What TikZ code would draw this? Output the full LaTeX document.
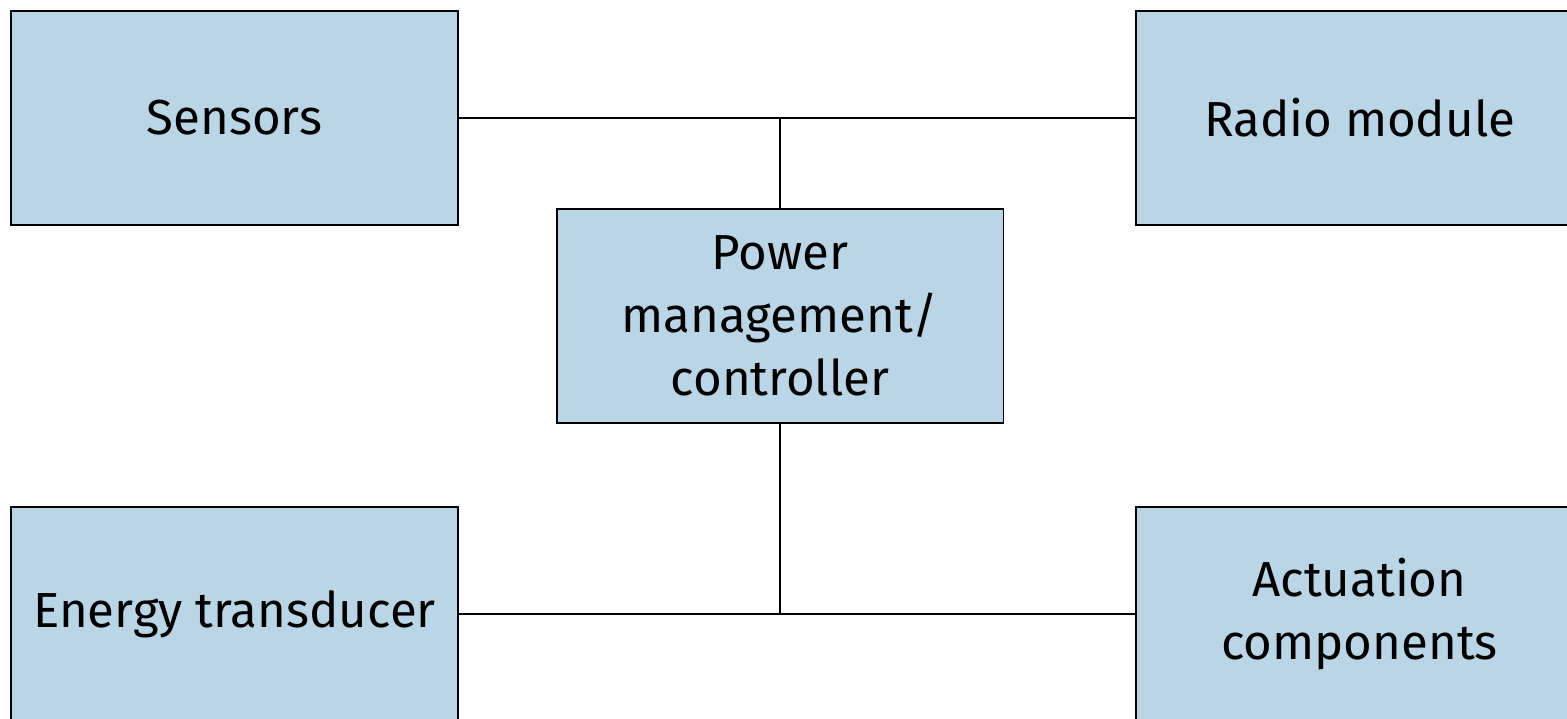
\documentclass[tikz,border=0pt]{standalone}
\usepackage{fontspec}
\setmainfont{Fira Sans}
\definecolor{boxblue}{RGB}{186,213,230}
\tikzset{
  block/.style={draw=black, fill=boxblue, line width=1.1pt, minimum width=8.94cm,
    minimum height=4.28cm, inner sep=0pt, align=center, font=\fontsize{28}{36}\selectfont},
  wire/.style={line width=1.1pt}
}
\begin{document}
\begin{tikzpicture}[x=0.02cm,y=0.02cm]
\useasboundingbox (0,0) rectangle (1567,719);

\node[block] (sensors) at (234.5,601) {Sensors};
\node[block] (radio) at (1359.5,601) {Radio module};
\node[block] (power) at (780,403) {Power\\management/\\controller};
\node[block] (energy) at (234.5,105) {Energy transducer};
\node[block] (actuation) at (1359.5,105) {Actuation\\components};

\draw[wire] (sensors.east) -- (radio.west);
\draw[wire] (power.north) -- (power.north |- sensors.east);

\draw[wire] (energy.east) -- (actuation.west);
\draw[wire] (power.south) -- (power.south |- energy.east);

\end{tikzpicture}
\end{document}
